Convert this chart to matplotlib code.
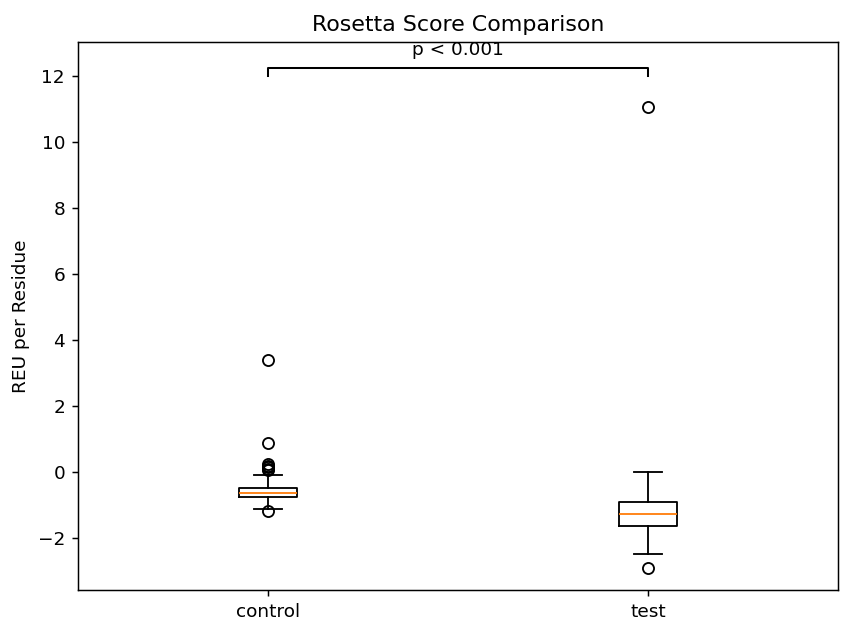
import matplotlib
matplotlib.use("Agg")
import matplotlib.pyplot as plt

labels = ["control", "test"]
q1 = [-0.76, -1.63]
med = [-0.64, -1.27]
q3 = [-0.48, -0.91]
whislo = [-1.12, -2.50]
whishi = [-0.09, 0.00]
fliers = [
    [3.39, 0.88, 0.24, 0.19, 0.14, 0.09, 0.05, -1.20],
    [11.06, -2.90],
]
p_text = "p < 0.001"
bracket_y = 12.0
bracket_h = 0.23

fig = plt.figure(figsize=(851/133, 631/133), dpi=133)
ax = fig.add_axes([78/851, 1-590/631, (838-78)/851, (590-42)/631])

stats = []
for i in range(len(labels)):
    stats.append(dict(label=labels[i], q1=q1[i], med=med[i], q3=q3[i],
                      whislo=whislo[i], whishi=whishi[i], fliers=fliers[i]))
ax.bxp(stats, positions=[1, 2], widths=0.15)

ax.plot([1, 1, 2, 2], [bracket_y, bracket_y + bracket_h, bracket_y + bracket_h, bracket_y],
        color="k", lw=1.1)
ax.text(1.5, bracket_y + bracket_h + 0.27, p_text, ha="center", va="bottom")

ax.set_xlim(0.5, 2.5)
ax.set_ylim(-3.58, 13.03)
ax.set_ylabel("REU per Residue")
ax.set_title("Rosetta Score Comparison")

fig.savefig("out.png", dpi=133)
